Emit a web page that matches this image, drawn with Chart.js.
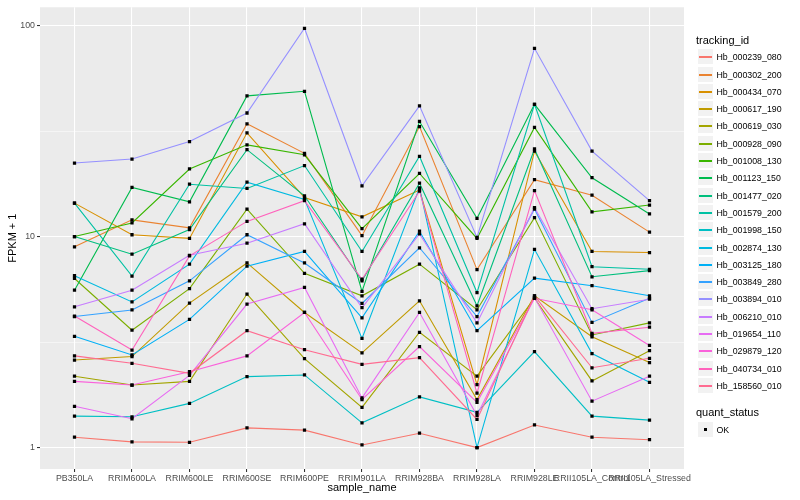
<!DOCTYPE html>
<html><head><meta charset="utf-8">
<script src="https://cdn.jsdelivr.net/npm/chart.js@4/dist/chart.umd.min.js"></script>
<style>
body{margin:0;background:#fff;}
#wrap{position:relative;width:800px;height:500px;font-family:"Liberation Sans",Arial,Helvetica,sans-serif;overflow:hidden;}
#c{position:absolute;left:0;top:0;}
.ttl{position:absolute;left:696px;font-size:11px;line-height:13px;color:#000;white-space:nowrap;}
.key{position:absolute;left:697px;width:17px;height:17px;background:#F2F2F2;border:1px solid #fff;box-sizing:border-box;}
.kl{position:absolute;left:1px;right:1px;top:6.5px;height:2px;}
.kp{position:absolute;left:6px;top:6px;width:3px;height:3px;background:#000;}
.lab{position:absolute;left:716.5px;font-size:8.8px;line-height:10px;color:#000;white-space:nowrap;}
</style></head><body>
<div id="wrap"><canvas id="c" width="800" height="500"></canvas><div id="legend"></div></div>
<script>
const categories = ["PB350LA","RRIM600LA","RRIM600LE","RRIM600SE","RRIM600PE","RRIM901LA","RRIM928BA","RRIM928LA","RRIM928LE","RRII105LA_Control","RRII105LA_Stressed"];
const seriesNames = ["Hb_000239_080","Hb_000302_200","Hb_000434_070","Hb_000617_190","Hb_000619_030","Hb_000928_090","Hb_001008_130","Hb_001123_150","Hb_001477_020","Hb_001579_200","Hb_001998_150","Hb_002874_130","Hb_003125_180","Hb_003849_280","Hb_003894_010","Hb_006210_010","Hb_019654_110","Hb_029879_120","Hb_040734_010","Hb_158560_010"];
const seriesColors = ["#F8766D","#EA8331","#D89000","#C09B00","#A3A500","#7CAE00","#39B600","#00BB4E","#00BF7D","#00C1A3","#00BFC4","#00BAE0","#00B0F6","#35A2FF","#9590FF","#C77CFF","#E76BF3","#FA62DB","#FF62BC","#FF6C91"];

const hb000239_080 = [1.12, 1.065, 1.06, 1.24, 1.21, 1.03, 1.17, 1.0, 1.28, 1.12, 1.09];
const hb000302_200 = [8.94, 12.0, 11.0, 34.2, 24.8, 10.1, 33.2, 6.97, 18.6, 15.7, 10.5];
const hb000434_070 = [14.4, 10.2, 9.8, 31.0, 15.3, 12.4, 16.6, 1.99, 25.4, 8.5, 8.4];
const hb000617_190 = [2.6, 2.7, 4.84, 7.5, 4.37, 2.81, 4.96, 1.69, 5.24, 3.35, 2.53];
const hb000619_030 = [2.18, 1.98, 2.06, 5.34, 2.64, 1.55, 3.52, 2.18, 5.1, 2.07, 2.88];
const hb000928_090 = [6.33, 3.6, 5.67, 13.5, 6.7, 5.24, 7.4, 4.5, 12.3, 3.42, 3.9];
const hb001008_130 = [10.0, 11.6, 20.9, 27.2, 24.4, 10.9, 19.9, 9.8, 32.9, 13.1, 14.1];
const hb001123_150 = [5.57, 17.1, 14.6, 46.4, 48.8, 5.5, 35.1, 12.2, 42.3, 19.0, 12.8];
const hb001477_020 = [10.0, 8.25, 10.8, 25.8, 15.6, 6.17, 17.9, 4.7, 26.0, 6.45, 6.9];
const hb001579_200 = [14.4, 6.5, 17.7, 16.9, 21.7, 8.5, 24.0, 5.43, 42.3, 7.2, 7.0];
const hb001998_150 = [1.41, 1.40, 1.62, 2.17, 2.21, 1.31, 1.74, 1.47, 2.85, 1.41, 1.35];
const hb002874_130 = [6.53, 4.9, 7.4, 18.1, 15.0, 3.29, 17.0, 1.0, 8.7, 2.79, 2.04];
const hb003125_180 = [3.37, 2.75, 4.05, 7.24, 8.5, 4.12, 10.6, 3.58, 6.35, 5.85, 5.24];
const hb003849_280 = [4.18, 4.49, 6.17, 10.2, 7.5, 4.82, 8.85, 4.18, 13.5, 3.92, 5.1];
const hb003894_010 = [22.3, 23.3, 28.2, 38.5, 97.0, 17.4, 41.6, 9.9, 78.0, 25.4, 14.8];
const hb006210_010 = [4.65, 5.57, 8.15, 9.3, 11.5, 4.6, 10.3, 3.9, 13.7, 4.55, 5.05];
const hb019654_110 = [1.57, 1.37, 2.2, 4.79, 5.74, 1.72, 4.37, 1.42, 5.14, 1.66, 2.18];
const hb029879_120 = [2.06, 1.98, 2.29, 2.72, 4.37, 1.69, 3.01, 1.64, 5.1, 4.5, 3.05];
const hb040734_010 = [4.2, 2.9, 8.1, 11.8, 14.8, 6.28, 16.4, 1.81, 16.5, 3.48, 3.72];
const hb158560_010 = [2.72, 2.51, 2.25, 3.58, 2.91, 2.48, 2.67, 1.36, 5.24, 2.39, 2.65];

const seriesValues = [hb000239_080, hb000302_200, hb000434_070, hb000617_190, hb000619_030, hb000928_090, hb001008_130, hb001123_150, hb001477_020, hb001579_200, hb001998_150, hb002874_130, hb003125_180, hb003849_280, hb003894_010, hb006210_010, hb019654_110, hb029879_120, hb040734_010, hb158560_010];

const yMajorTicks = [1, 10, 100];
const yMinorTicks = [3.1623, 31.623];
const yTickLabels = ["1", "10", "100"];

const FONT = '"Liberation Sans", Arial, Helvetica, sans-serif';

const datasets = seriesValues.map((vals, i) => ({
  type: 'line',
  label: seriesNames[i],
  data: vals.map((v, j) => ({x: j, y: v})),
  borderColor: seriesColors[i],
  backgroundColor: seriesColors[i],
  borderWidth: 1.1,
  pointRadius: 0,
  tension: 0,
  fill: false,
  order: 100 - i
}));
datasets.push({
  type: 'scatter',
  label: 'OK',
  data: seriesValues.flatMap(vals => vals.map((v, j) => ({x: j, y: v}))),
  pointStyle: 'rect',
  pointRadius: 2.3,
  backgroundColor: '#000',
  borderWidth: 0,
  order: -1
});

const panelBg = {
  id: 'panelBg',
  beforeDraw(chart) {
    const {ctx, chartArea: a} = chart;
    ctx.save();
    ctx.fillStyle = '#EBEBEB';
    ctx.fillRect(a.left, a.top, a.right - a.left, a.bottom - a.top);
    ctx.restore();
  }
};

const isMajorY = v => yMajorTicks.some(m => Math.abs(m - v) < 1e-6);

new Chart(document.getElementById('c'), {
  data: {datasets},
  plugins: [panelBg],
  options: {
    responsive: false,
    animation: false,
    events: [],
    layout: {padding: {left: 0, right: 116, top: 5, bottom: 0}},
    plugins: {legend: {display: false}, tooltip: {enabled: false}},
    scales: {
      x: {
        type: 'linear',
        min: -0.6,
        max: 10.6,
        afterBuildTicks: s => { s.ticks = categories.map((c, i) => ({value: i})); },
        afterFit: s => { s.height = 31; },
        border: {display: false},
        grid: {color: '#FFFFFF', lineWidth: 1.07, tickColor: '#333333', tickLength: 3, drawTicks: true},
        ticks: {
          autoSkip: false, maxRotation: 0, minRotation: 0, padding: 1,
          color: '#4D4D4D', font: {family: FONT, size: 8.8},
          callback: v => categories[v]
        },
        title: {display: true, text: 'sample_name', color: '#000', font: {family: FONT, size: 11}, padding: {top: 0, bottom: 5}}
      },
      y: {
        type: 'logarithmic',
        min: 0.792,
        max: 122,
        afterBuildTicks: s => { s.ticks = [yMajorTicks[0], yMinorTicks[0], yMajorTicks[1], yMinorTicks[1], yMajorTicks[2]].map(v => ({value: v})); },
        afterFit: s => { s.width = 40; },
        border: {display: false},
        grid: {
          color: '#FFFFFF',
          lineWidth: ctx => isMajorY(ctx.tick.value) ? 1.07 : 0.53,
          tickColor: ctx => isMajorY(ctx.tick.value) ? '#333333' : 'rgba(0,0,0,0)',
          tickLength: 3, drawTicks: true
        },
        ticks: {
          autoSkip: false, padding: 2,
          color: '#4D4D4D', font: {family: FONT, size: 8.8},
          callback: v => { const k = yMajorTicks.findIndex(m => Math.abs(m - v) < 1e-6); return k >= 0 ? yTickLabels[k] : ''; }
        },
        title: {display: true, text: 'FPKM + 1', color: '#000', font: {family: FONT, size: 11}, padding: {top: 6, bottom: 0}}
      }
    }
  }
});

// legend (ggplot-style), built from the same arrays
const lg = document.getElementById('legend');
function add(html) { lg.insertAdjacentHTML('beforeend', html); }
add(`<div class="ttl" style="top:34px">tracking_id</div>`);
seriesNames.forEach((n, i) => {
  const top = Math.round(56.7 + 17.3 * i - 8.5);
  add(`<div class="key" style="top:${top}px"><div class="kl" style="background:${seriesColors[i]}"></div></div>`);
  add(`<div class="lab" style="top:${top + 3.5}px">${n}</div>`);
});
add(`<div class="ttl" style="top:405.8px">quant_status</div>`);
add(`<div class="key" style="top:421px"><div class="kp"></div></div>`);
add(`<div class="lab" style="top:424.5px">OK</div>`);
</script>
</body></html>
